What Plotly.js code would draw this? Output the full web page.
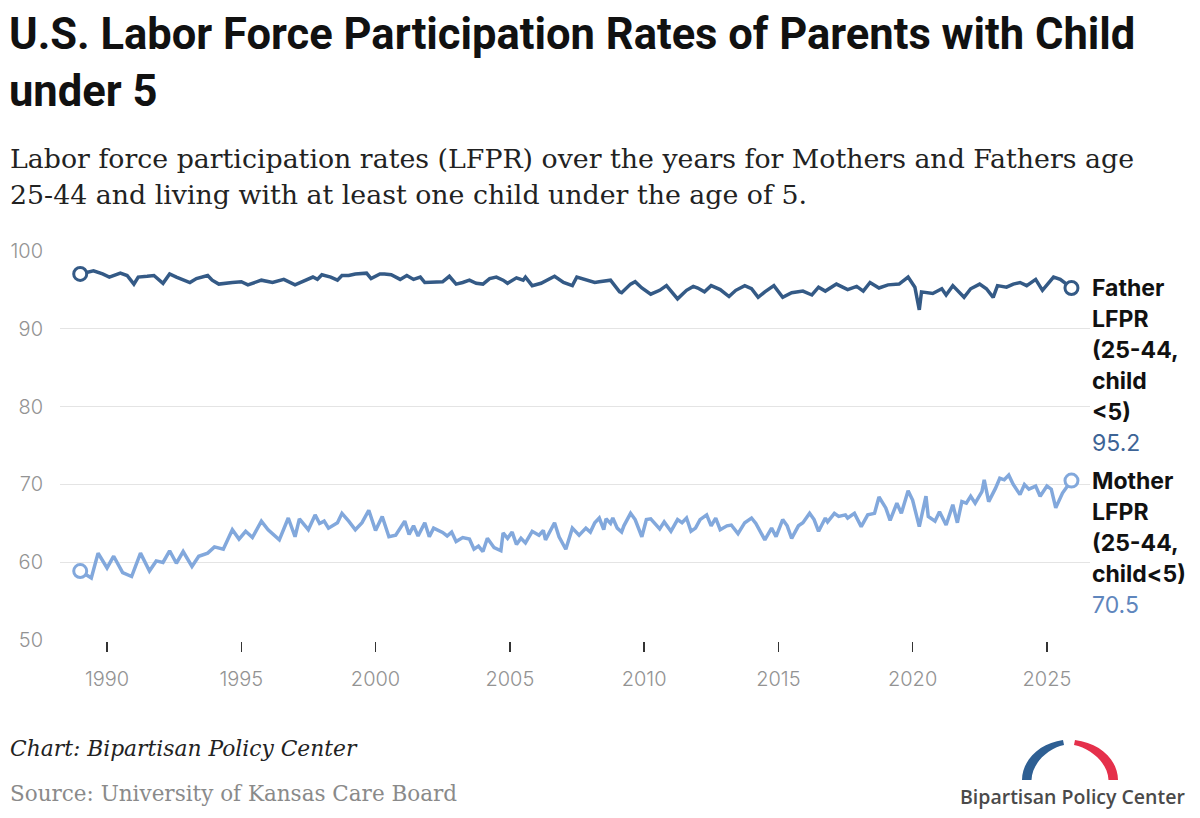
<!DOCTYPE html>
<html>
<head>
<meta charset="utf-8">
<script src="https://cdn.plot.ly/plotly-3.0.1.min.js"></script>
<style>
  html, body { margin: 0; padding: 0; background: #fff; }
  #chart { width: 1200px; height: 818px; }
</style>
</head>
<body>
<div id="chart"></div>
<script>
// ---- Data ----
const fatherDates = [
  '1989-01','1989-07','1989-11',
  '1990-02','1990-07','1990-10',
  '1991-01','1991-03','1991-07','1991-10',
  '1992-02','1992-05','1992-08',
  '1993-02','1993-05','1993-10','1993-12',
  '1994-03','1994-09',
  '1995-01','1995-04','1995-10',
  '1996-03','1996-08',
  '1997-01','1997-05','1997-09','1997-11',
  '1998-01','1998-05','1998-08','1998-10',
  '1999-01','1999-04','1999-09','1999-11',
  '2000-03','2000-05','2000-08','2000-12',
  '2001-03','2001-06','2001-09','2001-11',
  '2002-04','2002-07','2002-10',
  '2003-01','2003-04','2003-07','2003-10',
  '2004-01','2004-04','2004-07','2004-10','2004-12',
  '2005-04','2005-07','2005-08','2005-11',
  '2006-03','2006-06','2006-09',
  '2007-01','2007-05','2007-07','2007-11',
  '2008-03','2008-05','2008-10',
  '2009-02','2009-03','2009-07','2009-09','2009-12',
  '2010-04','2010-08','2010-11',
  '2011-04','2011-08','2011-11',
  '2012-01','2012-04','2012-07','2012-11',
  '2013-03','2013-06','2013-10',
  '2014-01','2014-04','2014-07','2014-11',
  '2015-03','2015-07','2015-12',
  '2016-04','2016-07','2016-10',
  '2017-03','2017-08','2017-12',
  '2018-03','2018-06','2018-10',
  '2019-02','2019-07','2019-11',
  '2020-02','2020-04','2020-05','2020-10',
  '2021-02','2021-04','2021-07','2021-12',
  '2022-03','2022-07','2022-10',
  '2023-01','2023-03','2023-07','2023-10',
  '2024-01','2024-04','2024-08','2024-11',
  '2025-04','2025-07','2025-12'
];
const fatherValues = [
  97.0,97.4,97.0,
  96.6,97.1,96.8,
  95.7,96.6,96.7,96.8,
  95.8,97.0,96.6,
  95.9,96.4,96.8,96.2,
  95.7,95.9,
  96.0,95.6,96.2,
  95.9,96.3,
  95.6,96.1,96.6,96.3,
  96.9,96.6,96.2,96.8,
  96.8,97.0,97.1,96.4,
  97.0,97.0,96.9,96.3,
  96.8,96.3,96.6,95.9,
  95.9,96.0,96.7,
  95.7,95.9,96.2,95.8,
  95.7,96.4,96.6,96.2,95.8,
  96.5,96.2,96.6,95.5,
  95.8,96.2,96.7,
  95.9,95.5,96.6,96.3,
  95.9,96.0,96.2,
  94.7,94.6,95.7,96.0,95.2,
  94.4,94.9,95.5,
  93.8,94.9,95.4,
  95.2,94.7,95.5,95.0,
  94.1,94.9,95.5,
  95.1,94.0,94.7,95.5,
  94.0,94.6,94.8,
  94.3,95.3,94.8,
  95.7,95.0,95.4,
  94.8,95.9,95.2,
  95.6,95.7,96.6,
  95.3,92.4,94.7,94.5,
  95.1,94.3,95.5,94.0,
  95.1,95.7,95.1,
  94.0,95.5,95.3,95.7,
  95.9,95.5,96.3,94.9,
  96.6,96.3,95.2
];
const motherDates = [
  '1989-01','1989-06','1989-09',
  '1990-01','1990-04','1990-08','1990-12',
  '1991-04','1991-08','1991-11',
  '1992-02','1992-05','1992-08','1992-11',
  '1993-03','1993-06','1993-10',
  '1994-01','1994-05','1994-09','1994-12',
  '1995-03','1995-06','1995-10',
  '1996-01','1996-06','1996-10',
  '1997-01','1997-03','1997-07','1997-10','1997-12',
  '1998-02','1998-04','1998-08','1998-10',
  '1999-01','1999-04','1999-07','1999-10',
  '2000-01','2000-04','2000-07','2000-10',
  '2001-02','2001-04','2001-06','2001-08','2001-11',
  '2002-01','2002-03','2002-07','2002-09','2002-11',
  '2003-01','2003-04','2003-07','2003-09','2003-11',
  '2004-01','2004-03','2004-06','2004-09','2004-10','2004-12',
  '2005-02','2005-04','2005-06','2005-08','2005-11',
  '2006-02','2006-04','2006-05','2006-09','2006-11',
  '2007-02','2007-05','2007-08','2007-11',
  '2008-01','2008-03','2008-05','2008-07','2008-08','2008-10','2008-11',
  '2009-01','2009-03','2009-04','2009-07','2009-09','2009-12',
  '2010-02','2010-04','2010-08','2010-10',
  '2011-01','2011-04','2011-06','2011-08','2011-10','2011-12',
  '2012-02','2012-05','2012-07','2012-09','2012-11',
  '2013-02','2013-04','2013-07','2013-10',
  '2014-01','2014-03','2014-07','2014-10','2014-12',
  '2015-03','2015-05','2015-07','2015-10','2015-12',
  '2016-03','2016-05','2016-07','2016-10','2016-11',
  '2017-02','2017-04','2017-07','2017-08','2017-11',
  '2018-01','2018-02','2018-05','2018-08','2018-10',
  '2019-01','2019-03','2019-06','2019-08','2019-11',
  '2020-01','2020-04','2020-07','2020-08','2020-11',
  '2021-01','2021-04','2021-07','2021-09','2021-11',
  '2022-01','2022-03','2022-05','2022-08','2022-09','2022-11',
  '2023-02','2023-04','2023-06','2023-08','2023-10',
  '2024-01','2024-03','2024-05','2024-08','2024-10',
  '2025-01','2025-03','2025-05','2025-08','2025-12'
];
const motherValues = [
  58.9,58.0,61.2,
  59.3,60.8,58.7,58.2,
  61.2,58.9,60.2,
  60.0,61.5,59.9,61.4,
  59.5,60.8,61.2,
  62.0,61.7,64.2,63.0,
  64.0,63.2,65.3,
  64.2,62.9,65.7,
  63.3,65.6,64.2,66.1,65.0,
  65.3,64.4,65.1,66.3,
  65.3,64.2,65.1,66.7,
  64.1,65.9,63.3,63.5,
  65.3,63.6,64.7,63.4,65.1,
  63.3,64.4,63.85,63.4,63.9,
  62.7,63.2,63.0,61.7,62.1,
  61.4,63.1,61.9,61.5,63.8,63.1,
  63.9,62.3,63.1,62.5,64.0,
  63.5,64.1,62.9,65.1,63.3,
  61.7,64.4,63.5,64.4,
  63.9,65.1,65.7,64.2,65.6,65.0,65.7,
  64.4,63.9,64.7,66.3,65.5,63.3,
  65.5,65.6,64.3,65.2,
  64.0,65.5,65.1,65.7,64.0,64.4,
  65.5,66.1,64.7,65.7,64.2,
  64.7,64.8,63.7,65.1,
  65.7,65.0,62.9,64.4,63.3,
  65.5,64.7,63.1,64.7,65.1,
  66.3,65.5,64.0,65.7,65.2,
  66.3,65.9,66.1,65.7,66.3,
  65.1,64.6,66.1,66.3,68.4,
  67.0,65.4,67.6,66.3,69.2,
  68.0,64.6,68.5,65.9,65.3,
  66.5,64.8,67.4,65.1,67.8,
  67.6,68.5,67.6,69.1,70.6,67.8,
  69.5,70.8,70.6,71.2,70.0,
  68.7,70.0,69.4,69.8,68.5,
  69.8,69.4,67.0,68.9,70.5
];
const yTickValues = [50, 60, 70, 80, 90, 100];
const xTickDates = ['1990-01-01','1995-01-01','2000-01-01','2005-01-01','2010-01-01','2015-01-01','2020-01-01','2025-01-01'];
const xTickLabels = ['1990','1995','2000','2005','2010','2015','2020','2025'];
const fatherLabelLines = ['Father', 'LFPR', '(25-44,', 'child', '<5)'];
const motherLabelLines = ['Mother', 'LFPR', '(25-44,', 'child<5)'];

// ---- Styles ----
const fatherColor = '#345a86';
const motherColor = '#82a8dc';
const fatherValueColor = '#3d6496';
const motherValueColor = '#5f86bd';

function esc(s) { return s.replace(/&/g, '&amp;').replace(/</g, '&lt;').replace(/>/g, '&gt;'); }
function ends(arr) { return [arr[0], arr[arr.length - 1]]; }

const traces = [
  { x: fatherDates, y: fatherValues, type: 'scatter', mode: 'lines', name: 'Father LFPR (25-44, child <5)',
    line: { color: fatherColor, width: 3.5 }, hoverinfo: 'skip' },
  { x: motherDates, y: motherValues, type: 'scatter', mode: 'lines', name: 'Mother LFPR (25-44, child<5)',
    line: { color: motherColor, width: 3.5 }, hoverinfo: 'skip' },
  { x: ends(fatherDates), y: ends(fatherValues), type: 'scatter', mode: 'markers', showlegend: false, cliponaxis: false,
    marker: { size: 13, color: '#ffffff', line: { color: fatherColor, width: 3 } }, hoverinfo: 'skip' },
  { x: ends(motherDates), y: ends(motherValues), type: 'scatter', mode: 'markers', showlegend: false, cliponaxis: false,
    marker: { size: 13, color: '#ffffff', line: { color: motherColor, width: 3 } }, hoverinfo: 'skip' }
];

const L = 60, R = 1090, T = 250, B = 641;
const PW = R - L, PH = B - T;
function px2x(px) { return (px - L) / PW; }
function py2y(py) { return (B - py) / PH; }

const annotations = [];
function addEndLabel(lines, lastVal, valueText, valueColor) {
  const all = lines.map(esc).concat([valueText]);
  all.forEach((t, i) => {
    const isVal = i === all.length - 1;
    annotations.push({
      xref: 'paper', yref: 'y', x: 1, y: lastVal, xanchor: 'left', yanchor: 'middle',
      xshift: 0, yshift: -31 * i, showarrow: false, text: t, align: 'left',
      font: { family: 'Inter, Roboto, sans-serif', size: 23, weight: isVal ? 400 : 700, color: isVal ? valueColor : '#111111' }
    });
  });
}
addEndLabel(fatherLabelLines, fatherValues[fatherValues.length - 1], fatherValues[fatherValues.length - 1].toFixed(1), fatherValueColor);
addEndLabel(motherLabelLines, motherValues[motherValues.length - 1], motherValues[motherValues.length - 1].toFixed(1), motherValueColor);

// subtitle lines
annotations.push({ xref: 'paper', yref: 'paper', x: px2x(8), y: py2y(158), xanchor: 'left', yanchor: 'middle', showarrow: false,
  text: 'Labor force participation rates (LFPR) over the years for Mothers and Fathers age',
  font: { family: '"DejaVu Serif", serif', size: 26.8, color: '#222222' } });
annotations.push({ xref: 'paper', yref: 'paper', x: px2x(8), y: py2y(195), xanchor: 'left', yanchor: 'middle', showarrow: false,
  text: '25-44 and living with at least one child under the age of 5.',
  font: { family: '"DejaVu Serif", serif', size: 26.8, color: '#222222' } });
// footer
annotations.push({ xref: 'paper', yref: 'paper', x: px2x(8), y: py2y(748), xanchor: 'left', yanchor: 'middle', showarrow: false,
  text: '<i>Chart: Bipartisan Policy Center</i>',
  font: { family: '"DejaVu Serif", serif', size: 21.8, color: '#222222' } });
annotations.push({ xref: 'paper', yref: 'paper', x: px2x(8), y: py2y(793), xanchor: 'left', yanchor: 'middle', showarrow: false,
  text: 'Source: University of Kansas Care Board',
  font: { family: '"DejaVu Serif", serif', size: 21.5, color: '#8a8a8a' } });
// logo text
annotations.push({ xref: 'paper', yref: 'paper', x: px2x(1072), y: py2y(796), xanchor: 'center', yanchor: 'middle', showarrow: false,
  text: 'Bipartisan Policy Center',
  font: { family: '"Open Sans", sans-serif', size: 19.5, weight: 600, color: '#4a4a4a' } });

// logo arch as inline svg
const archSvg = '<svg xmlns="http://www.w3.org/2000/svg" width="100" height="41" viewBox="0 0 100 41">' +
  '<path d="M2,41 C2,21 20,4 43,1 L44,6 C28,9.5 12,24 11.5,41 Z" fill="#2e5f93"/>' +
  '<path d="M98,41 C98,21 80,4 55,1 L54,6 C71,9.5 88,24 88.5,41 Z" fill="#e5304b"/>' +
  '</svg>';
const archSrc = 'data:image/svg+xml;charset=utf-8,' + encodeURIComponent(archSvg);

const layout = {
  width: 1200, height: 818,
  paper_bgcolor: '#ffffff', plot_bgcolor: '#ffffff',
  margin: { l: L, r: 1200 - R, t: T, b: 818 - B, pad: 0 },
  showlegend: false,
  title: {
    text: 'U.S. Labor Force Participation Rates of Parents with Child<br>under 5',
    font: { family: 'Roboto, sans-serif', size: 43.5, weight: 700, color: '#111111' },
    x: 9 / 1200, xref: 'container', xanchor: 'left',
    y: 1 - 49 / 818, yref: 'container', yanchor: 'top'
  },
  xaxis: {
    type: 'date',
    range: ['1988-04-01', '2026-08-10'],
    tickvals: xTickDates, ticktext: xTickLabels,
    showgrid: false, zeroline: false, showline: false,
    ticks: 'outside', ticklen: 10, tickwidth: 1.5, tickcolor: '#333333',
    tickfont: { family: 'Inter, Roboto, sans-serif', size: 20, weight: 300, color: '#939393' },
    ticklabelstandoff: 10
  },
  yaxis: {
    range: [49.93, 100.07],
    tickvals: yTickValues,
    showgrid: true, gridcolor: '#e4e4e4', gridwidth: 1.5,
    zeroline: false, showline: false, ticks: '',
    tickfont: { family: 'Inter, Roboto, sans-serif', size: 20, weight: 300, color: '#939393' },
    ticklabelstandoff: 16
  },
  annotations: annotations,
  images: [{
    source: archSrc, xref: 'paper', yref: 'paper',
    x: px2x(1020), y: py2y(739), sizex: 100 / PW, sizey: 41 / PH,
    xanchor: 'left', yanchor: 'top', sizing: 'stretch', layer: 'above'
  }]
};

Plotly.newPlot('chart', traces, layout, { displayModeBar: false, staticPlot: true });
</script>
</body>
</html>
